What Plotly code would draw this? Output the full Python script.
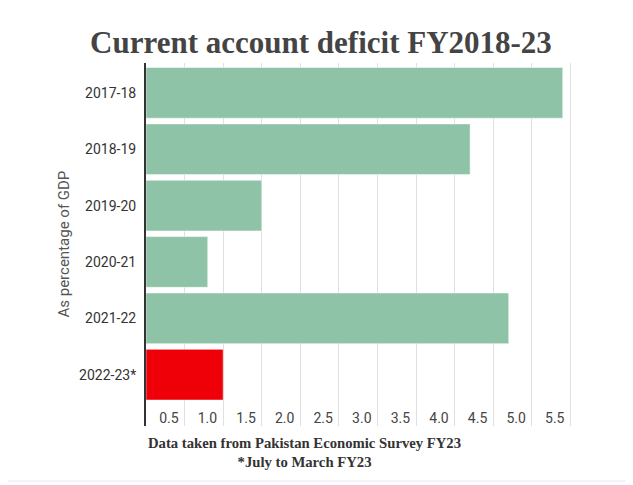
import plotly.graph_objects as go

years = ["2017-18", "2018-19", "2019-20", "2020-21", "2021-22", "2022-23*"]
deficit = [5.4, 4.2, 1.5, 0.8, 4.7, 1.0]
bar_colors = ["#8fc3a8"] * 5 + ["#ef0008"]
x_ticks = [0.5, 1.0, 1.5, 2.0, 2.5, 3.0, 3.5, 4.0, 4.5, 5.0, 5.5]

W, H = 633, 485
OFF = 8  # page body margin pushes the figure by 8px
L, T = 146 - OFF, 63 - OFF
pw, ph = 426, 363
R, B = W - L - pw, H - T - ph


def px_x(x):
    return (x - OFF - L) / pw


def px_y(y):
    return (T + ph - (y - OFF)) / ph


fig = go.Figure()
fig.add_trace(go.Bar(
    y=years, x=deficit, orientation="h",
    marker=dict(color=bar_colors, line=dict(color="rgba(255,255,255,0.5)", width=1)),
    hoverinfo="x+y",
))

fig.update_layout(
    width=W, height=H,
    margin=dict(l=L, r=R, t=T, b=B),
    plot_bgcolor="white", paper_bgcolor="white",
    bargap=0.1,
    showlegend=False,
    font=dict(family="Roboto", size=14, color="#333"),
    title=dict(
        text="<b>Current account deficit FY2018-23</b>",
        x=(321 - OFF) / W, xanchor="center",
        y=1 - (42 - OFF) / H, yanchor="middle",
        font=dict(family="Liberation Serif", size=31, color="#444"),
    ),
)

fig.update_xaxes(
    range=[0, 5.52],
    tickvals=x_ticks,
    ticktext=[f"{v:.1f}" for v in x_ticks],
    ticklabelposition="inside left",
    ticklabelshift=-6, ticklabelstandoff=-6,
    ticks="", showline=False, zeroline=False,
    showgrid=True, gridcolor="#e0e0e0", gridwidth=1,
    tickfont=dict(family="Roboto", size=14, color="#444"),
)

fig.update_yaxes(
    type="category",
    categoryorder="array", categoryarray=years,
    range=[5.91, -0.53],
    showline=True, linecolor="#333", linewidth=2,
    showgrid=False, zeroline=False,
    ticks="outside", ticklen=5, tickcolor="rgba(0,0,0,0)",
    tickfont=dict(family="Roboto", size=14, color="#333"),
)

fig.add_annotation(
    text="As percentage of GDP", textangle=-90,
    xref="paper", yref="paper", x=px_x(63), y=0.5,
    xanchor="center", yanchor="middle",
    showarrow=False, font=dict(family="Roboto", size=15, color="#555"),
)

fig.add_annotation(
    text="<b>Data taken from Pakistan Economic Survey FY23<br>*July to March FY23</b>",
    xref="paper", yref="paper", x=px_x(304), y=px_y(452),
    xanchor="center", yanchor="middle", align="center", showarrow=False,
    font=dict(family="Liberation Serif", size=14.7, color="#333"),
)

fig.add_shape(
    type="line", xref="paper", yref="paper",
    x0=px_x(0), x1=px_x(W), y0=px_y(481), y1=px_y(481),
    line=dict(color="#e6e6e6", width=1),
)

fig.write_html("out.html")
